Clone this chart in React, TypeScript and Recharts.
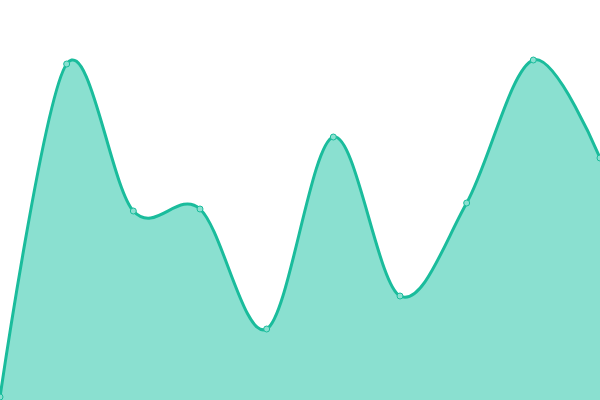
import { AreaChart, Area, XAxis, YAxis } from "recharts";

const categories = ["A", "B", "C", "D", "E", "F", "G", "H", "I", "J"];
const values = [3, 336, 189, 191, 71, 263, 104, 197, 340, 242];

const data = categories.map((name, i) => ({ name, value: values[i] }));

// cardinal spline curve (same shape as d3 curveCardinal), tension 0
const smoothCurve = (context: any) => {
  const k = 1 / 6;
  let x0 = NaN, y0 = NaN, x1 = NaN, y1 = NaN, x2 = NaN, y2 = NaN;
  let pt = 0;
  let line = NaN;
  const bez = (x: number, y: number) => {
    context.bezierCurveTo(
      x1 + k * (x2 - x0),
      y1 + k * (y2 - y0),
      x2 + k * (x1 - x),
      y2 + k * (y1 - y),
      x2,
      y2
    );
  };
  return {
    areaStart() { line = 0; },
    areaEnd() { line = NaN; },
    lineStart() { x0 = x1 = x2 = y0 = y1 = y2 = NaN; pt = 0; },
    lineEnd() {
      if (pt === 2) context.lineTo(x2, y2);
      else if (pt === 3) bez(x1, y1);
      if (line || (line !== 0 && pt === 1)) context.closePath();
      line = 1 - line;
    },
    point(x: number, y: number) {
      x = +x; y = +y;
      if (pt === 0) {
        pt = 1;
        line ? context.lineTo(x, y) : context.moveTo(x, y);
      } else if (pt === 1) {
        pt = 2;
        x1 = x; y1 = y;
      } else {
        pt = 3;
        bez(x, y);
      }
      x0 = x1; x1 = x2; x2 = x;
      y0 = y1; y1 = y2; y2 = y;
    },
  };
};

export default function App() {
  return (
    <div style={{ position: "fixed", top: 0, left: 0, width: 600, height: 400, background: "#fff" }}>
      <AreaChart width={600} height={400} data={data} margin={{ top: 0, right: 0, bottom: 0, left: 0 }}>
        <XAxis dataKey="name" hide />
        <YAxis hide domain={[0, 400]} />
        <Area
          type={smoothCurve as any}
          dataKey="value"
          stroke="#1abc9c"
          strokeWidth={3}
          fill="#8ae0d0"
          fillOpacity={1}
          dot={{ r: 3, fill: "#8ae0d0", stroke: "#1abc9c", strokeWidth: 1, fillOpacity: 1 }}
          activeDot={false}
          isAnimationActive={false}
        />
      </AreaChart>
    </div>
  );
}
